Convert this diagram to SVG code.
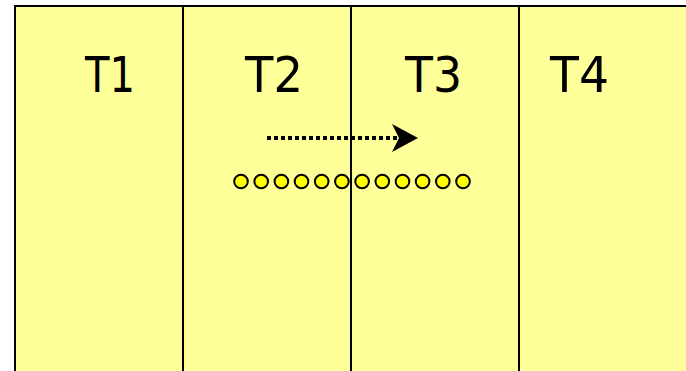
<svg xmlns="http://www.w3.org/2000/svg" width="686" height="371" viewBox="0 0 686 371">
<style>
.lbl{font-family:"Comic Sans MS","DejaVu Sans",sans-serif;font-size:50px;fill:#000}
.col{fill:#FFFF99;stroke:#000;stroke-width:2}
.dot{fill:#FFFF00;stroke:#000;stroke-width:2}
</style>
<defs>
<marker id="ah" markerUnits="userSpaceOnUse" markerWidth="28" markerHeight="30" refX="7" refY="14" orient="auto">
<path d="M0,0 L26,14 L0,28 L7,14 Z" fill="#000"/>
</marker>
</defs>
<g id="lane-T1"><rect class="col" x="15" y="6" width="168" height="370"/><text class="lbl" x="85" y="92" textLength="50" lengthAdjust="spacingAndGlyphs">T1</text></g>
<g id="lane-T2"><rect class="col" x="183" y="6" width="168" height="370"/><text class="lbl" x="245" y="92" textLength="58" lengthAdjust="spacingAndGlyphs">T2</text></g>
<g id="lane-T3"><rect class="col" x="351" y="6" width="168" height="370"/><text class="lbl" x="405" y="92" textLength="57" lengthAdjust="spacingAndGlyphs">T3</text></g>
<g id="lane-T4"><rect class="col" x="519" y="6" width="180" height="370"/><text class="lbl" x="550" y="92" textLength="59" lengthAdjust="spacingAndGlyphs">T4</text></g>
<g id="connectors">
<line x1="267" y1="138" x2="399" y2="138" stroke="#000" stroke-width="4" stroke-dasharray="4 3" marker-end="url(#ah)"/>
</g>
<g id="dots">
<circle class="dot" cx="241" cy="181.5" r="6.8"/>
<circle class="dot" cx="261.2" cy="181.5" r="6.8"/>
<circle class="dot" cx="281.4" cy="181.5" r="6.8"/>
<circle class="dot" cx="301.5" cy="181.5" r="6.8"/>
<circle class="dot" cx="321.7" cy="181.5" r="6.8"/>
<circle class="dot" cx="341.9" cy="181.5" r="6.8"/>
<circle class="dot" cx="362.1" cy="181.5" r="6.8"/>
<circle class="dot" cx="382.3" cy="181.5" r="6.8"/>
<circle class="dot" cx="402.5" cy="181.5" r="6.8"/>
<circle class="dot" cx="422.6" cy="181.5" r="6.8"/>
<circle class="dot" cx="442.8" cy="181.5" r="6.8"/>
<circle class="dot" cx="463" cy="181.5" r="6.8"/>
</g>
<line x1="351" y1="6" x2="351" y2="371" stroke="#000" stroke-width="2"/>
</svg>
